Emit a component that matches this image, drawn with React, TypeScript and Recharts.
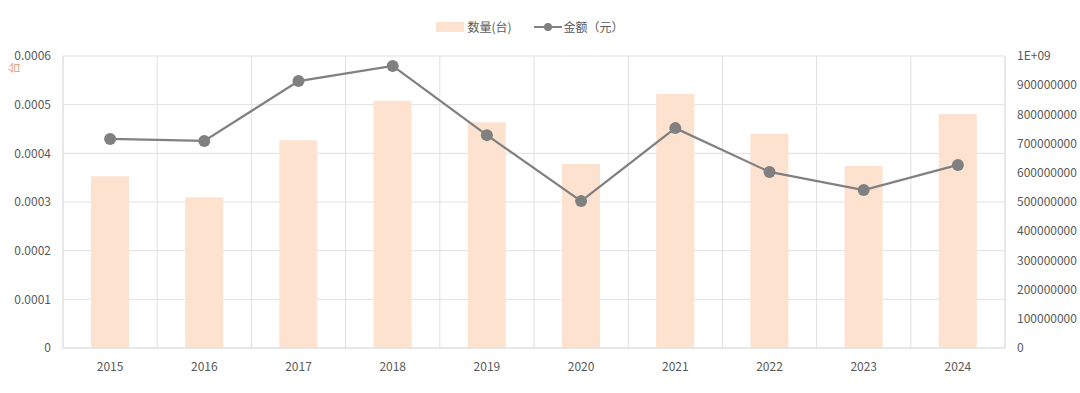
import { ComposedChart, Bar, Line, XAxis, YAxis, CartesianGrid } from "recharts";

const years = ["2015", "2016", "2017", "2018", "2019", "2020", "2021", "2022", "2023", "2024"];
const quantity = [0.000353, 0.00031, 0.000427, 0.000508, 0.000464, 0.000378, 0.000522, 0.00044, 0.000374, 0.000481];
const amount = [716000000, 709000000, 914000000, 966000000, 729000000, 503000000, 753000000, 603000000, 541000000, 627000000];
const leftTicks = [0, 0.0001, 0.0002, 0.0003, 0.0004, 0.0005, 0.0006];
const rightTicks = [0, 100000000, 200000000, 300000000, 400000000, 500000000, 600000000, 700000000, 800000000, 900000000, 1000000000];

const data = years.map((year, i) => ({ year, quantity: quantity[i], amount: amount[i] }));

const font = "'Microsoft YaHei', 'Noto Sans CJK SC', sans-serif";
const tick = { fontSize: 12, fill: "#595959", fontFamily: font };

function LegendBar() {
  return (
    <div
      style={{
        position: "absolute",
        top: 19,
        left: 0,
        width: 1080,
        display: "flex",
        justifyContent: "center",
        alignItems: "center",
        fontFamily: font,
        fontSize: 12,
        lineHeight: "16px",
        color: "#595959",
      }}
    >
      <div style={{ display: "flex", alignItems: "center", marginLeft: -20 }}>
        <span style={{ display: "inline-block", width: 28, height: 10, background: "#fde2d0", marginRight: 3 }} />
        <span style={{ marginRight: 22 }}>数量(台)</span>
        <svg width={28} height={12} style={{ marginRight: 2 }}>
          <line x1={0} y1={6} x2={28} y2={6} stroke="#808080" strokeWidth={2} />
          <circle cx={14} cy={6} r={4} fill="#808080" />
        </svg>
        <span>金额（元）</span>
      </div>
    </div>
  );
}

export default function App() {
  return (
    <div style={{ position: "absolute", left: 0, top: 0, width: 1080, height: 393, background: "#fff", overflow: "hidden" }}>
      <LegendBar />
      <ComposedChart width={1080} height={393} data={data} margin={{ top: 56, right: 0, bottom: 15, left: 0 }} barCategoryGap={0}>
        <CartesianGrid
          stroke="#e0e0e0"
          yAxisId="left"
          verticalCoordinatesGenerator={({ offset }: any) =>
            years.map((_, i) => offset.left + (offset.width * i) / years.length).concat([offset.left + offset.width])
          }
        />
        <XAxis dataKey="year" tick={tick} tickLine={false} axisLine={{ stroke: "#e0e0e0" }} height={30} tickMargin={8} />
        <YAxis
          yAxisId="left"
          width={63}
          domain={[0, 0.0006]}
          ticks={leftTicks}
          tick={tick}
          tickLine={false}
          axisLine={{ stroke: "#e0e0e0" }}
          tickMargin={6}
          label={{
            content: () => (
              <text x={13} y={68} transform="rotate(-90, 13, 68)" textAnchor="middle" dominantBaseline="central" fill="#e0a070" fontSize={12} fontFamily={font}>
                台
              </text>
            ),
          }}
        />
        <YAxis
          yAxisId="right"
          orientation="right"
          width={75}
          domain={[0, 1000000000]}
          ticks={rightTicks}
          tick={{ ...tick, textAnchor: "start" }}
          tickLine={false}
          axisLine={{ stroke: "#e0e0e0" }}
          tickMargin={6}
          tickFormatter={(v: number) => (v >= 1000000000 ? "1E+09" : String(v))}
        />
        <Bar yAxisId="left" dataKey="quantity" name="数量(台)" fill="#fde2d0" barSize={38} isAnimationActive={false} />
        <Line
          yAxisId="right"
          dataKey="amount"
          name="金额（元）"
          stroke="#808080"
          strokeWidth={2.25}
          dot={{ r: 6, fill: "#808080", stroke: "#808080", strokeWidth: 0 }}
          activeDot={false}
          isAnimationActive={false}
        />
      </ComposedChart>
    </div>
  );
}
